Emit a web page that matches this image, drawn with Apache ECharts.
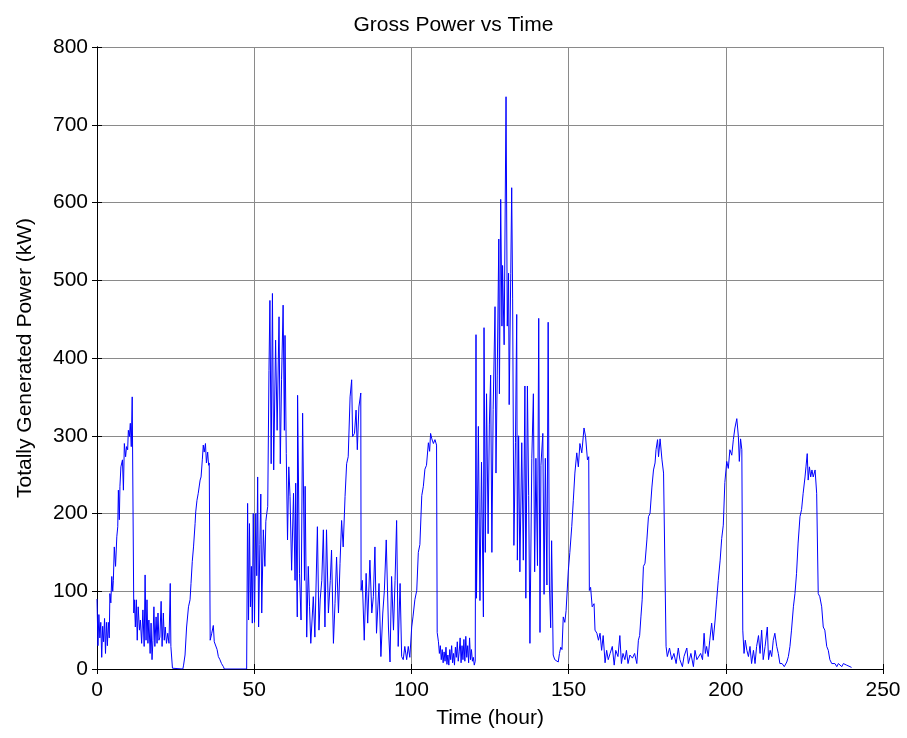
<!DOCTYPE html>
<html>
<head>
<meta charset="utf-8">
<script src="https://cdn.jsdelivr.net/npm/echarts@6/dist/echarts.min.js"></script>
<style>
html,body{margin:0;padding:0;background:#fff;}
#c{width:907px;height:738px;}
</style>
</head>
<body>
<div id="c"></div>
<script>
// [hour, kW] samples, grouped by day
const day1 = [[0,90],[0.3,30],[0.6,70],[0.9,40],[1.2,60],[1.5,15],[1.8,55],[2.1,35],[2.4,65],[2.7,20],[3.0,60],[3.3,30],[3.6,60],[3.9,40],[4.1,97],[4.4,85],[4.7,119],[5.0,100],[5.2,114],[5.5,157],[5.9,132],[6.3,170],[6.6,183],[6.8,230],[7.1,192],[7.3,235],[7.6,260],[8.1,269],[8.4,230],[8.7,290],[9.1,273],[9.4,286],[9.75,282],[9.97,307],[10.3,299],[10.6,316],[10.9,286],[11.2,350],[11.7,72],[11.9,89],[12.2,54],[12.5,89],[12.8,37],[13.1,80],[13.5,50],[13.8,63],[14.2,33],[14.6,76],[15.0,29],[15.3,121],[15.6,37],[15.9,89],[16.2,33],[16.5,63],[16.9,20],[17.2,59],[17.5,12],[17.8,37],[18.1,80],[18.4,29],[18.8,67],[19.1,33],[19.4,72],[19.7,37],[20.0,41],[20.4,87],[20.7,29],[21.1,72],[21.4,37],[21.7,54],[22.1,33],[22.5,46],[22.9,33],[23.3,110],[23.5,29],[24.0,1],[24.2,0],[27.3,0],[27.5,4],[28.0,18],[28.5,54],[29.1,80],[29.6,89],[29.9,110],[30.3,138],[30.7,157],[31.2,187],[31.4,202],[31.8,217],[32.2,226],[32.8,243],[33.1,247],[33.5,269],[33.8,288],[34.1,279],[34.5,290],[34.8,265],[35.2,279],[35.5,262],[35.7,265],[36.0,37],[36.5,46],[37.0,56],[37.3,35],[37.7,33],[38.2,25],[38.6,16],[39.1,12],[39.6,7],[40.2,3],[40.5,0],[47.6,0]];
const day2 = [[47.9,213],[48.2,63],[48.5,187],[48.8,80],[49.1,132],[49.4,59],[49.7,200],[50.1,60],[50.5,200],[50.8,120],[51.1,247],[51.4,54],[51.8,160],[52.1,225],[52.4,72],[52.9,179],[53.4,132],[53.7,190],[54.0,200],[54.3,209],[54.7,384],[55.0,474],[55.4,264],[55.8,483],[56.2,256],[56.8,423],[57.3,307],[57.9,453],[58.3,264],[58.7,372],[59.2,468],[59.6,307],[59.8,429],[60.2,277],[60.6,166],[61.0,260],[61.4,222],[61.9,127],[62.5,226],[63.0,114],[63.2,239],[63.7,67],[63.8,352],[64.4,123],[64.9,63],[65.4,329],[66.0,114],[66.2,235],[66.7,41],[67.2,132],[67.6,80],[68.0,33],[68.8,93],[69.3,41],[70.1,183],[70.6,50],[71.0,90],[71.5,114],[72.0,179],[72.5,54],[73.0,179],[73.6,72],[74.2,114],[74.6,153],[75.2,33],[75.7,84],[76.2,144],[76.8,72],[77.3,136],[77.8,191],[78.3,157],[78.9,222],[79.4,264],[79.9,273],[80.5,350],[81.0,372],[81.3,299],[81.9,303],[82.4,333],[82.8,282],[83.3,337],[83.9,355],[84.0,101],[84.4,114],[85.0,37],[85.6,123],[86.1,59],[86.8,140],[87.4,72],[87.9,93],[88.4,157],[88.9,46],[89.7,110],[90.3,16],[90.9,72],[91.4,101],[92.0,166],[92.7,54],[93.2,9],[93.7,119],[94.3,50],[94.8,114],[95.3,191],[95.8,29]];
const day3 = [[96.4,110],[96.9,16],[97.4,12],[97.9,29],[98.5,12],[99.0,29],[99.5,15],[100.1,54],[100.5,67],[101.1,89],[101.7,101],[102.2,150],[102.7,160],[103.3,223],[103.8,235],[104.3,257],[104.8,262],[105.4,291],[105.8,280],[106.1,303],[106.5,296],[107.0,290],[107.5,295],[108.0,288],[108.2,47],[108.6,35],[108.9,20],[109.2,30],[109.5,12],[109.8,25],[110.1,8],[110.4,22],[110.7,10],[111.0,28],[111.3,6],[111.6,18],[111.9,5],[112.2,25],[112.5,12],[112.8,30],[113.1,8],[113.4,20],[113.7,5],[114.0,28],[114.3,15],[114.6,35],[114.9,10],[115.2,22],[115.5,40],[115.8,8],[116.1,30],[116.4,12],[116.7,38],[117.0,10],[117.3,42],[117.6,15],[117.9,30],[118.2,8],[118.5,40],[118.8,12],[119.1,25],[119.4,10],[119.7,15],[120.0,5],[120.3,10]];
const day4 = [[120.55,430],[120.7,91],[121.0,200],[121.3,312],[121.8,88],[122.3,266],[122.9,67],[123.1,439],[123.5,150],[123.9,354],[124.4,174],[124.8,315],[125.2,378],[125.6,150],[126.0,334],[126.6,466],[126.9,252],[127.3,378],[127.8,553],[128.0,354],[128.4,604],[128.8,441],[129.0,519],[129.5,417],[130.1,736],[130.5,441],[130.9,509],[131.1,340],[131.6,509],[131.9,619],[132.2,476],[132.6,159],[133.1,291],[133.5,456],[133.7,140],[134.1,300],[134.5,125],[135.1,291],[135.6,140],[136.1,364],[136.4,91],[136.9,364],[137.3,223],[137.7,33],[138.3,271],[138.8,354],[139.2,125],[139.6,271],[140.1,133],[140.5,451],[140.9,47],[141.2,262],[141.8,303],[142.2,96],[142.6,271],[143.1,108],[143.5,446],[143.9,108],[144.3,53],[144.6,165],[145.1,18],[145.6,12],[146.2,14],[146.7,9],[147.1,20],[147.5,28],[147.9,25],[148.3,67],[148.8,60],[149.2,75],[149.9,126],[150.4,150],[151.0,183],[151.5,217],[152.0,252],[152.6,278],[153.1,260],[153.6,290],[154.2,278],[154.9,310],[155.4,299],[156.0,269],[156.4,273],[156.6,101],[157.0,105],[157.5,80],[158.1,84],[158.4,50],[159.0,46],[159.5,37],[160.0,46],[160.5,24],[161.0,43],[161.6,8],[162.1,24],[162.6,12],[163.2,20],[163.9,29],[164.5,5],[165.0,24],[165.7,16],[166.3,43],[166.8,7],[167.3,20],[167.9,12],[168.4,24],[168.9,7],[169.5,18],[170.3,14],[171.0,20],[171.7,7],[172.2,37],[172.6,43]];
const day5 = [[173.0,67],[173.4,89],[173.8,132],[174.3,136],[174.9,166],[175.4,196],[175.9,200],[176.5,234],[177.0,256],[177.5,265],[177.8,282],[178.3,295],[178.6,273],[179.1,296],[179.7,269],[180.2,252],[180.7,250],[181.0,29],[181.4,16],[182.1,27],[182.8,12],[183.5,20],[184.2,7],[184.9,27],[185.4,12],[186.2,3],[186.7,16],[187.6,27],[188.1,7],[188.9,20],[189.7,3],[190.2,24],[190.8,12],[191.3,14],[192.0,20],[192.6,12],[193.1,46],[193.5,20],[193.9,29],[194.4,16],[194.9,37],[195.5,59],[196.0,37],[196.6,63],[197.1,89],[197.6,114],[198.2,140],[198.7,168],[199.2,185],[199.7,240],[200.3,267],[200.8,258],[201.3,282],[201.9,275],[202.4,295],[202.9,310],[203.5,322],[204.0,299],[204.3,267],[204.7,296],[205.1,282],[205.4,50]];
const day6 = [[205.8,20],[206.2,37],[206.7,24],[207.2,16],[207.7,29],[208.2,7],[208.8,24],[209.3,7],[209.8,29],[210.4,43],[210.9,20],[211.4,50],[211.9,12],[212.5,29],[213.2,54],[213.6,12],[214.1,24],[214.6,16],[215.1,37],[215.6,46],[216.2,29],[216.7,20],[217.2,7],[217.9,7],[218.6,3],[219.4,9],[219.9,16],[220.4,29],[220.9,50],[221.5,80],[222.0,97],[222.5,123],[223.0,162],[223.6,196],[224.1,205],[224.6,226],[225.2,247],[225.5,260],[225.9,277],[226.2,243],[226.6,260],[227.0,247],[227.4,256],[227.8,247],[228.4,256],[228.9,226],[229.4,97],[229.9,93],[230.5,80],[231.0,54],[231.5,50],[232.1,29],[232.6,24],[233.1,12],[233.7,7],[234.2,5],[234.7,7],[235.3,3],[235.8,7],[236.3,5],[236.9,3],[237.4,7],[238.4,5],[239.5,3],[240.0,2]];

const xTicks = [0, 50, 100, 150, 200, 250];
const yTicks = [0, 100, 200, 300, 400, 500, 600, 700, 800];

const series = [].concat(day1, day2, day3, day4, day5, day6);

const FONT = 'Liberation Sans, Arial, sans-serif';
const chart = echarts.init(document.getElementById('c'), null, {renderer: 'canvas'});
const frameLine = {show: true, lineStyle: {color: '#000', width: 1}};
const inTick = {show: true, inside: true, length: 5, lineStyle: {color: '#000', width: 1}};
chart.setOption({
  animation: false,
  backgroundColor: '#fff',
  title: {
    text: 'Gross Power vs Time', left: 'center', top: 10,
    textStyle: {fontFamily: FONT, fontSize: 21, fontWeight: 'normal', color: '#000'}
  },
  grid: {left: 97, right: 24, top: 47, bottom: 69, containLabel: false},
  xAxis: [{
    type: 'value', min: xTicks[0], max: xTicks[xTicks.length - 1], interval: 50,
    name: 'Time (hour)', nameLocation: 'middle', nameGap: 39,
    nameTextStyle: {fontFamily: FONT, fontSize: 21, color: '#000'},
    axisLine: frameLine, axisTick: inTick,
    axisLabel: {fontFamily: FONT, fontSize: 21, color: '#000', margin: 11},
    splitLine: {show: true, lineStyle: {color: '#8a8a8a', width: 1}}
  }, {
    type: 'value', position: 'top', min: xTicks[0], max: xTicks[xTicks.length - 1], interval: 50,
    axisLine: frameLine, axisTick: inTick, axisLabel: {show: false}, splitLine: {show: false}
  }],
  yAxis: [{
    type: 'value', min: yTicks[0], max: yTicks[yTicks.length - 1], interval: 100,
    name: 'Totally Generated Power (kW)', nameLocation: 'middle', nameGap: 61,
    nameTextStyle: {fontFamily: FONT, fontSize: 21, color: '#000'},
    axisLine: frameLine, axisTick: inTick,
    axisLabel: {fontFamily: FONT, fontSize: 21, color: '#000', margin: 9},
    splitLine: {show: true, lineStyle: {color: '#8a8a8a', width: 1}}
  }, {
    type: 'value', position: 'right', min: yTicks[0], max: yTicks[yTicks.length - 1], interval: 100,
    axisLine: frameLine, axisTick: inTick, axisLabel: {show: false}, splitLine: {show: false}
  }],
  series: [{
    type: 'line', xAxisIndex: 0, yAxisIndex: 0,
    data: series, showSymbol: false, symbol: 'none',
    lineStyle: {color: '#0000ff', width: 1}, itemStyle: {color: '#0000ff'}
  }]
});
</script>
</body>
</html>
